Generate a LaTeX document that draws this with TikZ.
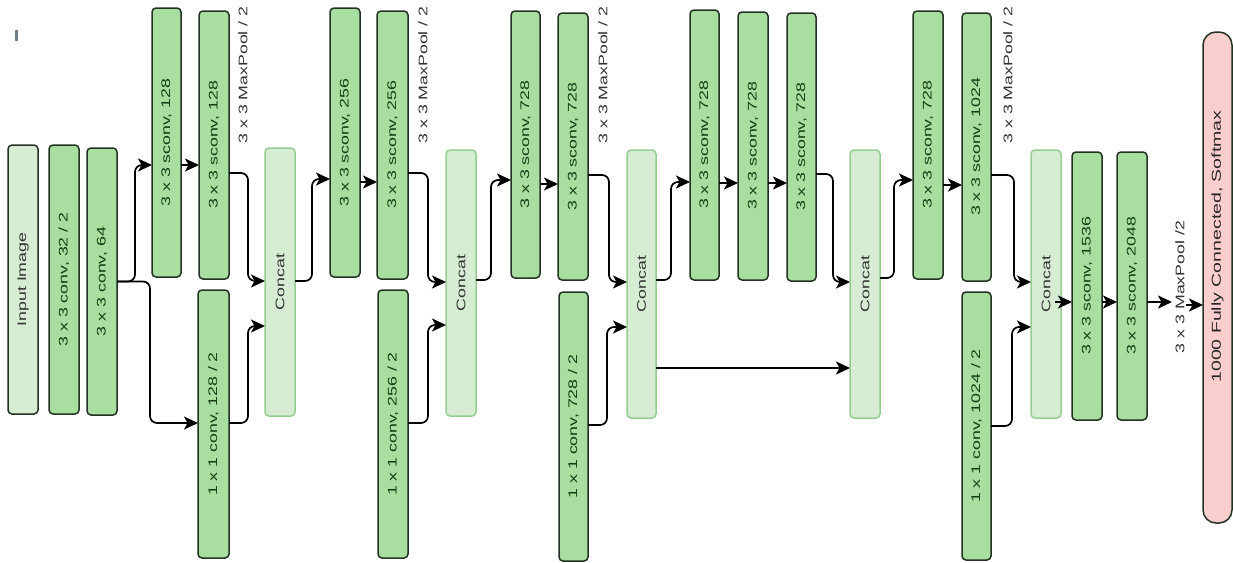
\documentclass[tikz,border=0pt]{standalone}
\usepackage{fontspec}
\setmainfont{Liberation Sans}
\usepackage{graphicx}
\usetikzlibrary{arrows.meta,calc}
\definecolor{gfill}{RGB}{168,222,160}
\definecolor{lfill}{RGB}{214,237,212}
\definecolor{cborder}{RGB}{150,205,145}
\definecolor{dborder}{RGB}{35,50,35}
\definecolor{gtext}{RGB}{20,62,20}
\definecolor{pfill}{RGB}{250,206,204}
\definecolor{speck}{RGB}{110,130,140}
\newcommand\vt[2][1.42]{\rotatebox{90}{\scalebox{#1}[1]{#2}}}
\newcommand\bx[7]{\node[#6, minimum width={(#4-#2)*1pt}, minimum height={(#5-#3)*1pt}] (#1) at ({(#2+#4)/2},{(#3+#5)/2}) {#7};}
\tikzset{
  basebox/.style={draw=dborder, line width=1.5pt, rounded corners=4pt, inner sep=0pt, outer sep=0pt, font=\fontsize{12.5}{14}\selectfont, text=gtext},
  greenbox/.style={basebox, fill=gfill},
  inbox/.style={basebox, fill=lfill, text=black!80},
  catbox/.style={basebox, fill=lfill, draw=cborder, text=black!80},
  fcbox/.style={basebox, fill=pfill, rounded corners=13pt, text=black!85, font=\fontsize{13}{15}\selectfont},
  lbl/.style={inner sep=0pt, font=\fontsize{12.5}{14}\selectfont, text=black!80},
  arr/.style={-{Stealth[length=14pt,width=13pt,inset=3.5pt]}, line width=1.7pt, rounded corners=7pt}
}
\begin{document}
\begin{tikzpicture}[x=1pt,y=-1pt]
\useasboundingbox (0,0) rectangle (1233,562);
\fill[speck] (15,30) rectangle (18,41);
% stem
\bx{in}{8}{145}{38}{414}{inbox}{\vt{Input Image}}
\bx{c32}{49}{145}{79}{414}{greenbox}{\vt{3 x 3 conv, 32 / 2}}
\bx{c64}{87}{148}{117}{415}{greenbox}{\vt{3 x 3 conv, 64}}
% block 1
\bx{s1a}{152}{8}{181}{277}{greenbox}{\vt{3 x 3 sconv, 128}}
\bx{s1b}{199}{11}{229}{279}{greenbox}{\vt{3 x 3 sconv, 128}}
\bx{p1}{198}{290}{229}{558}{greenbox}{\vt{1 x 1 conv, 128 / 2}}
\bx{cc1}{265}{148}{295}{416}{catbox}{\vt{Concat}}
% block 2
\bx{s2a}{330}{8}{360}{277}{greenbox}{\vt{3 x 3 sconv, 256}}
\bx{s2b}{377}{11}{408}{279}{greenbox}{\vt{3 x 3 sconv, 256}}
\bx{p2}{378}{290}{408}{558}{greenbox}{\vt{1 x 1 conv, 256 / 2}}
\bx{cc2}{446}{150}{476}{416}{catbox}{\vt{Concat}}
% block 3
\bx{s3a}{511}{11}{540}{278}{greenbox}{\vt{3 x 3 sconv, 728}}
\bx{s3b}{558}{13}{588}{280}{greenbox}{\vt{3 x 3 sconv, 728}}
\bx{p3}{559}{292}{588}{561}{greenbox}{\vt{1 x 1 conv, 728 / 2}}
\bx{cc3}{627}{150}{656}{418}{catbox}{\vt{Concat}}
% middle flow
\bx{m1}{690}{10}{719}{280}{greenbox}{\vt{3 x 3 sconv, 728}}
\bx{m2}{738}{12}{768}{280}{greenbox}{\vt{3 x 3 sconv, 728}}
\bx{m3}{787}{13}{816}{281}{greenbox}{\vt{3 x 3 sconv, 728}}
\bx{cc4}{850}{150}{880}{418}{catbox}{\vt{Concat}}
% exit flow
\bx{s4a}{913}{11}{943}{279}{greenbox}{\vt{3 x 3 sconv, 728}}
\bx{s4b}{962}{13}{991}{281}{greenbox}{\vt{3 x 3 sconv, 1024}}
\bx{p4}{962}{292}{991}{560}{greenbox}{\vt{1 x 1 conv, 1024 / 2}}
\bx{cc5}{1031}{150}{1061}{418}{catbox}{\vt{Concat}}
\bx{e1}{1072}{152}{1102}{420}{greenbox}{\vt{3 x 3 sconv, 1536}}
\bx{e2}{1117}{152}{1147}{420}{greenbox}{\vt{3 x 3 sconv, 2048}}
\bx{fc}{1203}{32}{1232}{523}{fcbox}{\rotatebox{90}{\hspace*{62pt}\scalebox{1.5}[1]{1000 Fully Connected, Softmax}}}
% labels
\node[lbl] (mp1) at (243,75) {\vt{3 x 3 MaxPool / 2}};
\node[lbl] (mp2) at (423,75) {\vt{3 x 3 MaxPool / 2}};
\node[lbl] (mp3) at (603,75) {\vt{3 x 3 MaxPool / 2}};
\node[lbl] (mp4) at (1008,75) {\vt{3 x 3 MaxPool / 2}};
\node[lbl] (mp5) at (1180,287) {\vt{3 x 3 MaxPool /2}};
\coordinate (pe) at (1172,302);
\coordinate (ps) at (1186,305);
% connectors
\draw[arr] (c64.east) -| (135,165) -- (s1a.west |- 0,165);
\draw[arr] (c64.east) -| (150,423) -- (p1.west |- 0,423);
\draw[arr] (s1a.east |- 0,165) -- (s1b.west |- 0,165);
\draw[arr] (s1b.east |- 0,173) -| (248,281) -- (cc1.west |- 0,281);
\draw[arr] (p1.east |- 0,423) -| (248,326) -- (cc1.west |- 0,326);
\draw[arr] (cc1.east |- 0,281) -| (312,179) -- (s2a.west |- 0,179);
\draw[arr] (s2a.east |- 0,182) -- (s2b.west |- 0,182);
\draw[arr] (s2b.east |- 0,173) -| (428,282) -- (cc2.west |- 0,282);
\draw[arr] (p2.east |- 0,423) -| (428,325) -- (cc2.west |- 0,325);
\draw[arr] (cc2.east |- 0,280) -| (491,180) -- (s3a.west |- 0,180);
\draw[arr] (s3a.east |- 0,184) -- (s3b.west |- 0,184);
\draw[arr] (s3b.east |- 0,175) -| (609,282) -- (cc3.west |- 0,282);
\draw[arr] (p3.east |- 0,425) -| (607,327) -- (cc3.west |- 0,327);
\draw[arr] (cc3.east |- 0,280) -| (671,182) -- (m1.west |- 0,182);
\draw[arr] (m1.east |- 0,183) -- (m2.west |- 0,183);
\draw[arr] (m2.east |- 0,183) -- (m3.west |- 0,183);
\draw[arr] (m3.east |- 0,174) -| (833,282) -- (cc4.west |- 0,282);
\draw[arr] (cc3.east |- 0,368) -- (cc4.west |- 0,368);
\draw[arr] (cc4.east |- 0,278) -| (894,180) -- (s4a.west |- 0,180);
\draw[arr] (s4a.east |- 0,185) -- (s4b.west |- 0,185);
\draw[arr] (s4b.east |- 0,175) -| (1014,282) -- (cc5.west |- 0,282);
\draw[arr] (p4.east |- 0,426) -| (1012,327) -- (cc5.west |- 0,327);
\draw[arr] ($(cc5.east |- 0,302)+(-6,0)$) -- (e1.west |- 0,302);
\draw[arr] (e1.east |- 0,302) -- (e2.west |- 0,302);
\draw[arr] (e2.east |- pe) -- (pe);
\draw[arr] (ps) -- (fc.west |- ps);
\end{tikzpicture}
\end{document}
